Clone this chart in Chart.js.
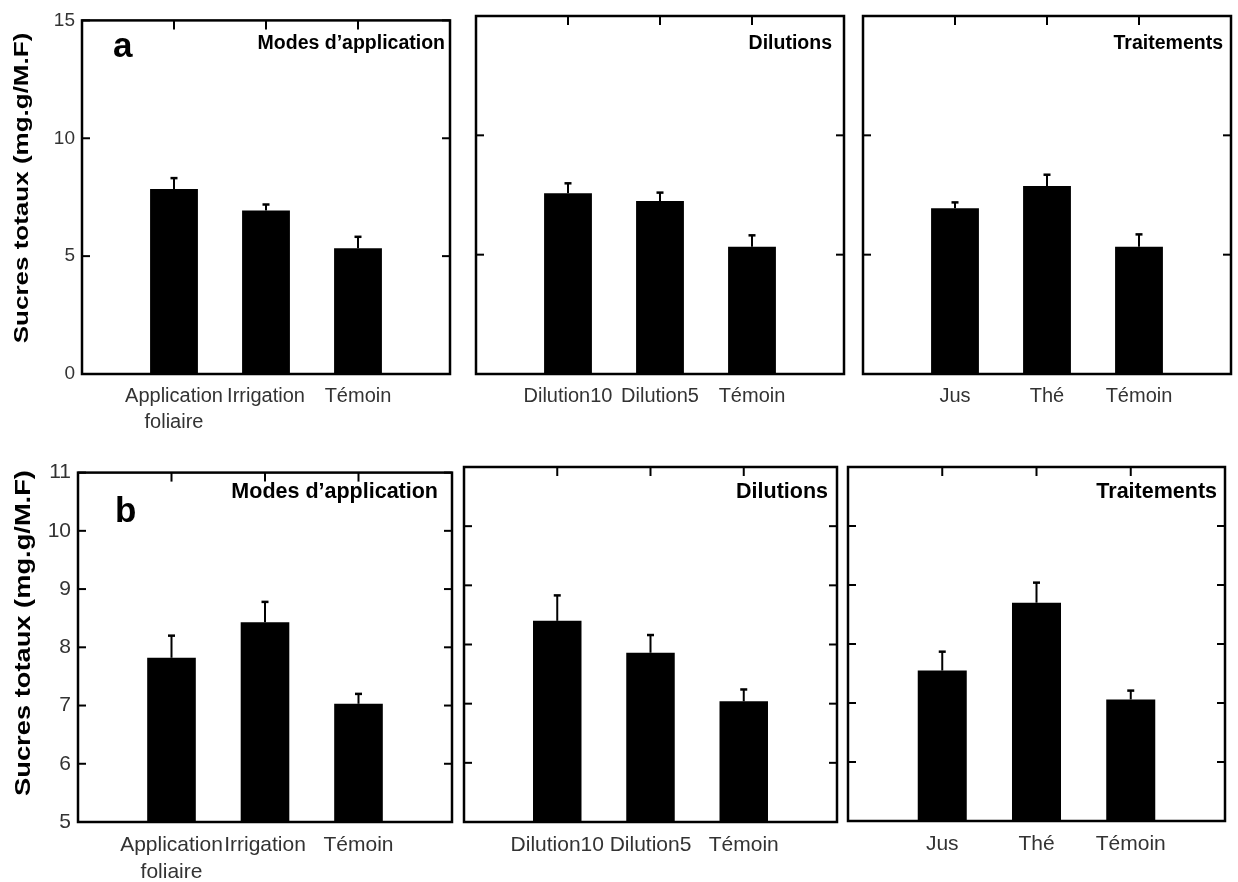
<!DOCTYPE html>
<html>
<head>
<meta charset="utf-8">
<script src="https://cdn.jsdelivr.net/npm/chart.js@4.4.0/dist/chart.umd.min.js"></script>
<style>
  html, body { margin: 0; padding: 0; background: #fff; width: 1238px; height: 882px; overflow: hidden; }
  #wrap { position: relative; width: 1238px; height: 882px; font-family: "Liberation Sans", Arial, Helvetica, sans-serif; }
  #wrap canvas { position: absolute; }
  .txt { position: absolute; white-space: nowrap; line-height: 1; font-weight: bold; color: #000; }
</style>
</head>
<body>
<div id="wrap"></div>
<script>
// Categories of each panel
const modesLabels = [['Application', 'foliaire'], 'Irrigation', 'Témoin'];
const dilutionLabels = ['Dilution10', 'Dilution5', 'Témoin'];
const traitementLabels = ['Jus', 'Thé', 'Témoin'];

// Row a — total sugars (mg.g/M.F): means and standard errors
const aModes = [7.85, 6.94, 5.33];
const aModesErr = [0.46, 0.25, 0.49];
const aDilutions = [7.57, 7.25, 5.33];
const aDilutionsErr = [0.42, 0.35, 0.48];
const aTraitements = [6.94, 7.88, 5.33];
const aTraitementsErr = [0.25, 0.47, 0.52];

// Row b — total sugars (mg.g/M.F): means and standard errors
const bModes = [7.82, 8.43, 7.03];
const bModesErr = [0.38, 0.35, 0.17];
const bDilutions = [8.40, 7.86, 7.04];
const bDilutionsErr = [0.43, 0.30, 0.20];
const bTraitements = [7.55, 8.70, 7.06];
const bTraitementsErr = [0.32, 0.34, 0.15];

// Y-axis tick values of each row
const yTicksA = [0, 5, 10, 15];
const yTicksB = [5, 6, 7, 8, 9, 10, 11];

const panelTitles = ['Modes d\u2019application', 'Dilutions', 'Traitements'];
const yTitle = 'Sucres totaux (mg.g/M.F)';

// ---- layout of the six plot frames: [left, top, right, bottom]
const rows = [
  {
    letter: 'a', ticks: yTicksA, min: 0, max: 15,
    tickFont: 19, labelFont: 20, titleFont: 19.5, padB: 70,
    frames: [[82, 16, 452, 374], [476, 16, 846, 374], [863, 16, 1233, 374]],
    titleRight: [445, 832, 1223], titleCy: 42.5,
    sets: [[modesLabels, aModes, aModesErr], [dilutionLabels, aDilutions, aDilutionsErr], [traitementLabels, aTraitements, aTraitementsErr]]
  },
  {
    letter: 'b', ticks: yTicksB, min: 5, max: 11,
    tickFont: 21, labelFont: 21, titleFont: 21.5, padB: 60,
    frames: [[78, 467, 454, 822], [464, 467, 839, 822], [848, 467, 1227, 821]],
    titleRight: [438, 828, 1217], titleCy: 491.5,
    sets: [[modesLabels, bModes, bModesErr], [dilutionLabels, bDilutions, bDilutionsErr], [traitementLabels, bTraitements, bTraitementsErr]]
  }
];

const FONT = '"Liberation Sans", Arial, Helvetica, sans-serif';

// Frame, inward tick marks and upper error bars
const framePlugin = {
  id: 'frameAndErrors',
  afterDatasetsDraw(chart) {
    const { ctx, chartArea: a, scales: { x, y } } = chart;
    const ds = chart.data.datasets[0];
    const meta = chart.getDatasetMeta(0);
    const seg = (x1, y1, x2, y2) => { ctx.beginPath(); ctx.moveTo(x1, y1); ctx.lineTo(x2, y2); ctx.stroke(); };
    ctx.save();
    ctx.strokeStyle = '#000';
    ctx.lineCap = 'butt';

    // error bars (upper half only)
    meta.data.forEach((bar, i) => {
      const v = ds.data[i];
      const e = ds.errors[i];
      if (v == null || e == null) return;
      const yt = y.getPixelForValue(v + e);
      ctx.lineWidth = 2;
      seg(bar.x, bar.y, bar.x, yt);
      ctx.lineWidth = 2.5;
      seg(bar.x - 3.5, yt, bar.x + 3.5, yt);
    });

    // box
    ctx.lineWidth = 2.5;
    ctx.strokeRect(a.left, a.top, a.right - a.left, a.bottom - a.top);

    // ticks pointing inwards
    ctx.lineWidth = 2;
    y.ticks.forEach(t => {
      const py = y.getPixelForValue(t.value);
      seg(a.left, py, a.left + 8, py);
      seg(a.right - 8, py, a.right, py);
    });
    x.ticks.forEach((t, i) => {
      if (i === 0 || i === x.ticks.length - 1) return;
      const px = x.getPixelForValue(i);
      seg(px, a.top, px, a.top + 9);
    });
    ctx.restore();
  }
};

const wrap = document.getElementById('wrap');

function addText(str, css) {
  const d = document.createElement('div');
  d.className = 'txt';
  d.textContent = str;
  Object.assign(d.style, css);
  wrap.appendChild(d);
  return d;
}

rows.forEach((row, r) => {
  row.sets.forEach(([cats, vals, errs], c) => {
    const [fl, ft, fr, fb] = row.frames[c];
    const padL = c === 0 ? 72 : 12, padT = 14, padR = 8, padB = row.padB;
    const cv = document.createElement('canvas');
    const w = fr - fl + padL + padR, h = fb - ft + padT + padB;
    cv.width = w; cv.height = h;
    cv.style.left = (fl - padL) + 'px';
    cv.style.top = (ft - padT) + 'px';
    cv.style.width = w + 'px'; cv.style.height = h + 'px';
    wrap.appendChild(cv);

    new Chart(cv, {
      type: 'bar',
      data: {
        labels: ['', ...cats, ''],
        datasets: [{
          data: [null, ...vals, null],
          errors: [null, ...errs, null],
          backgroundColor: '#000',
          borderWidth: 0,
          barPercentage: 0.52,
          categoryPercentage: 1
        }]
      },
      options: {
        responsive: false,
        animation: false,
        devicePixelRatio: 1,
        layout: { padding: { left: 0, top: padT, right: padR, bottom: 0 } },
        plugins: { legend: { display: false }, tooltip: { enabled: false } },
        scales: {
          x: {
            type: 'category',
            offset: false,
            grid: { display: false, drawTicks: false },
            border: { display: false },
            ticks: {
              autoSkip: false, maxRotation: 0, minRotation: 0,
              color: '#333', padding: 10,
              font: { family: FONT, size: row.labelFont, lineHeight: 1.27 }
            },
            afterFit(s) { s.height = padB; }
          },
          y: {
            min: row.min, max: row.max,
            afterBuildTicks(s) { s.ticks = row.ticks.map(v => ({ value: v })); },
            grid: { display: false, drawTicks: false },
            border: { display: false },
            ticks: {
              display: c === 0,
              color: '#333', padding: 7,
              font: { family: FONT, size: row.tickFont }
            },
            afterFit(s) { s.width = padL; }
          }
        }
      },
      plugins: [framePlugin]
    });

    // panel title in the upper right corner
    addText(panelTitles[c], {
      fontSize: row.titleFont + 'px',
      right: (1238 - row.titleRight[c]) + 'px',
      top: (row.titleCy - row.titleFont * 0.49) + 'px',
      fontFamily: FONT
    });
  });
});

// row letters
addText('a', { fontSize: '35px', left: '113px', top: (57 - 35 * 0.8465) + 'px', fontFamily: FONT });
addText('b', { fontSize: '35px', left: '115px', top: (522 - 35 * 0.8465) + 'px', fontFamily: FONT });

// vertical axis titles
const yT1 = addText(yTitle, { fontSize: '20px', left: '21px', top: '188px', fontFamily: FONT });
yT1.style.transform = 'translate(-50%, -50%) rotate(-90deg) scaleX(1.3)';
const yT2 = addText(yTitle, { fontSize: '22px', left: '23px', top: '633px', fontFamily: FONT });
yT2.style.transform = 'translate(-50%, -50%) rotate(-90deg) scaleX(1.24)';
</script>
</body>
</html>
